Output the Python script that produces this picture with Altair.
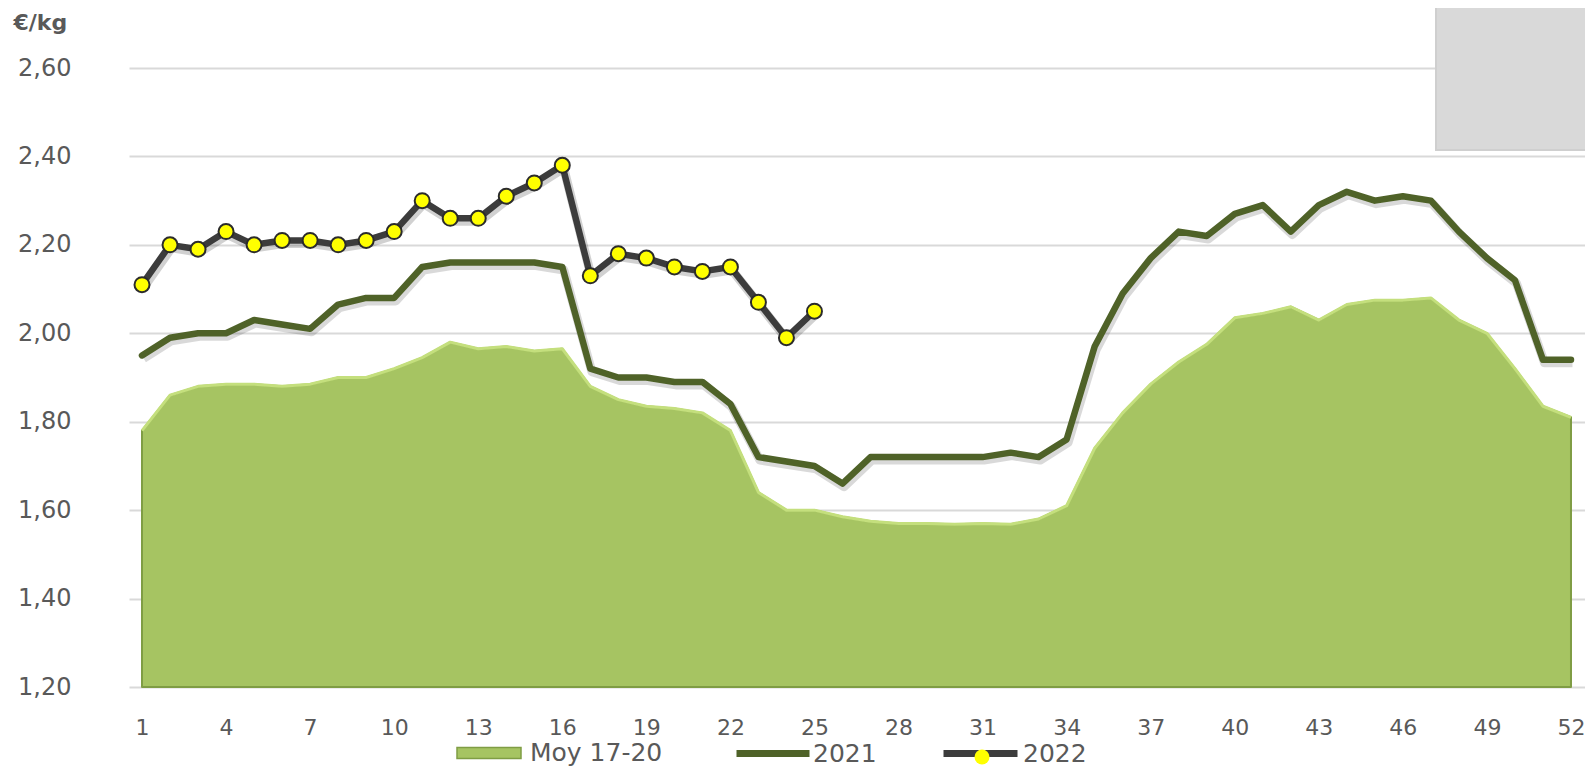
import altair as alt
import pandas as pd

# ---- data ----
weeks = list(range(1, 53))
moy_17_20 = [1.78, 1.86, 1.88, 1.885, 1.885, 1.88, 1.885, 1.90, 1.90, 1.92,
             1.945, 1.98, 1.965, 1.97, 1.96, 1.965, 1.88, 1.85, 1.835, 1.83,
             1.82, 1.78, 1.64, 1.60, 1.60, 1.585, 1.575, 1.57, 1.57, 1.568,
             1.57, 1.568, 1.58, 1.61, 1.74, 1.82, 1.885, 1.935, 1.975, 2.035,
             2.045, 2.06, 2.03, 2.065, 2.075, 2.075, 2.08, 2.03, 2.00, 1.92,
             1.835, 1.81]
y2021 = [1.95, 1.99, 2.00, 2.00, 2.03, 2.02, 2.01, 2.065, 2.08, 2.08,
         2.15, 2.16, 2.16, 2.16, 2.16, 2.15, 1.92, 1.90, 1.90, 1.89,
         1.89, 1.84, 1.72, 1.71, 1.70, 1.66, 1.72, 1.72, 1.72, 1.72,
         1.72, 1.73, 1.72, 1.76, 1.97, 2.09, 2.17, 2.23, 2.22, 2.27,
         2.29, 2.23, 2.29, 2.32, 2.30, 2.31, 2.30, 2.23, 2.17, 2.12,
         1.94, 1.94]
weeks_2022 = list(range(1, 26))
y2022 = [2.11, 2.20, 2.19, 2.23, 2.20, 2.21, 2.21, 2.20, 2.21, 2.23,
         2.30, 2.26, 2.26, 2.31, 2.34, 2.38, 2.13, 2.18, 2.17, 2.15,
         2.14, 2.15, 2.07, 1.99, 2.05]
series_names = ["Moy 17-20", "2021", "2022"]
x_ticks = list(range(1, 53, 3))
y_ticks = [1.2, 1.4, 1.6, 1.8, 2.0, 2.2, 2.4, 2.6]

df_moy = pd.DataFrame({"week": weeks, "value": moy_17_20, "series": series_names[0]})
df_21 = pd.DataFrame({"week": weeks, "value": y2021, "series": series_names[1]})
df_22 = pd.DataFrame({"week": weeks_2022, "value": y2022, "series": series_names[2]})
df_22p = pd.DataFrame({"week": weeks_2022, "value": y2022, "pt": "p2022"})

FONT = "DejaVu Sans"
TXT = "#595959"

x_scale = alt.Scale(domain=[0.536, 52.50], nice=False, zero=False)
y_scale = alt.Scale(domain=[1.2, 2.6], nice=False, zero=False)

x_axis = alt.Axis(values=x_ticks, grid=False, domain=False, ticks=False, tickSize=0,
                  labelPadding=30, labelFontSize=22, labelColor=TXT, labelFont=FONT,
                  labelFlush=False, labelOverlap=False, format="d", title=None)
y_axis = alt.Axis(values=y_ticks, grid=True, gridColor="#d9d9d9", gridWidth=2,
                  domain=False, ticks=False, tickSize=0, labelPadding=58,
                  labelFontSize=24, labelColor=TXT, labelFont=FONT,
                  labelExpr="replace(format(datum.value, '.2f'), '.', ',')",
                  title="€/kg", titleAngle=0, titleX=-116, titleY=-39,
                  titleAlign="left", titleBaseline="alphabetic", titleFontSize=22,
                  titleFontWeight="bold", titleColor=TXT, titleFont=FONT)

def xy():
    return dict(
        x=alt.X("week:Q", scale=x_scale, axis=x_axis),
        y=alt.Y("value:Q", scale=y_scale, axis=y_axis),
    )

leg_common = dict(title=None, orient="none", padding=0, labelFontSize=25,
                  labelColor=TXT, labelFont=FONT)

area = alt.Chart(df_moy).mark_area(
    stroke="#7f9d44", strokeWidth=2, strokeJoin="round", opacity=1
).encode(
    **xy(),
    y2=alt.datum(1.2),
    fill=alt.Fill("series:N",
                  scale=alt.Scale(domain=[series_names[0]], range=["#a6c462"]),
                  legend=alt.Legend(legendX=327, legendY=652,
                                    symbolType="M-1,-0.17H1V0.17H-1Z",
                                    symbolSize=4096, symbolStrokeColor="#7f9d44",
                                    symbolStrokeWidth=1.5, labelOffset=8,
                                    **leg_common)),
)

area_top = alt.Chart(df_moy).mark_line(
    color="#c4df7d", strokeWidth=3, strokeJoin="round"
).encode(**xy())

shadow21 = alt.Chart(df_21).mark_line(
    color="#000000", opacity=0.15, strokeWidth=9, xOffset=1.5, yOffset=3,
    strokeJoin="round"
).encode(**xy())

line21 = alt.Chart(df_21).mark_line(
    strokeWidth=6.5, strokeJoin="round", strokeCap="round"
).encode(
    **xy(),
    stroke=alt.Stroke("series:N",
                      scale=alt.Scale(domain=[series_names[1]], range=["#4f6228"]),
                      legend=alt.Legend(legendX=604, legendY=645.5,
                                        symbolType="stroke", symbolSize=5329,
                                        symbolStrokeWidth=7, labelOffset=0,
                                        **leg_common)),
)

shadow22 = alt.Chart(df_22).mark_line(
    color="#000000", opacity=0.18, strokeWidth=9, xOffset=1.5, yOffset=3,
    strokeJoin="round"
).encode(**xy())

line22 = alt.Chart(df_22).mark_line(
    strokeWidth=6.5, strokeJoin="round", strokeCap="round"
).encode(
    **xy(),
    stroke=alt.Stroke("series:N",
                      scale=alt.Scale(domain=[series_names[2]], range=["#3c3c3c"]),
                      legend=alt.Legend(legendX=811, legendY=645,
                                        symbolType="stroke", symbolSize=5476,
                                        symbolStrokeWidth=7, labelOffset=2,
                                        **leg_common)),
)

pts22 = alt.Chart(df_22p).mark_point(
    filled=True, fill="#ffff00", stroke="#2b2b2b", strokeWidth=2, size=225, opacity=1
).encode(
    **xy(),
    shape=alt.Shape("pt:N",
                    scale=alt.Scale(domain=["p2022"], range=["circle"]),
                    legend=alt.Legend(legendX=840.5, legendY=676.5, symbolSize=225,
                                      symbolFillColor="#ffff00",
                                      symbolStrokeColor="#2b2b2b",
                                      symbolStrokeWidth=2, labelExpr="''",
                                      zindex=5, **leg_common)),
)

box = alt.Chart(pd.DataFrame({"k": [0]})).mark_rect(
    fill="#d9d9d9", stroke="#cfcfcf", strokeWidth=2
).encode(x=alt.value(1307), x2=alt.value(1480), y=alt.value(-70), y2=alt.value(82))

chart = alt.layer(
    area, area_top, shadow21, line21, shadow22, line22, pts22, box
).resolve_scale(
    stroke="independent"
).properties(
    width=1456, height=619,
    autosize=alt.AutoSizeParams(type="none"),
    padding={"left": 121, "top": 60, "right": 0, "bottom": 79},
).configure_view(stroke=None)

chart.save("out.html", embed_options={"renderer": "svg", "actions": False})
